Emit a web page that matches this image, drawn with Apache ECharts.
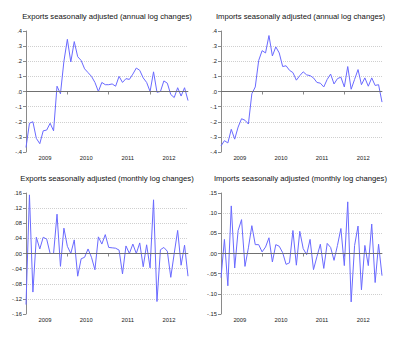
<!DOCTYPE html>
<html>
<head>
<meta charset="utf-8">
<script src="https://cdn.jsdelivr.net/npm/echarts@6/dist/echarts.min.js"></script>
<style>
  html, body { margin: 0; padding: 0; background: #ffffff; }
  #chart { width: 400px; height: 338px; }
</style>
</head>
<body>
<div id="chart"></div>
<script>
// Monthly observations, January 2009 to December 2012 (index 0..47)
const yearLabels = ['2009', '2010', '2011', '2012'];
const months = [];
yearLabels.forEach(function (y) {
  ['01','02','03','04','05','06','07','08','09','10','11','12'].forEach(function (m) { months.push(y + '-' + m); });
});

// Exports, seasonally adjusted, annual log changes
const exportsAnnual = [
  -0.37, -0.21, -0.20, -0.31, -0.345, -0.26, -0.255, -0.21, -0.26, 0.035, -0.015, 0.20,
  0.345, 0.195, 0.33, 0.23, 0.205, 0.15, 0.125, 0.10, 0.06, 0.0, 0.06, 0.045,
  0.045, 0.05, 0.035, 0.10, 0.06, 0.085, 0.08, 0.115, 0.155, 0.14, 0.09, 0.06,
  0.0, 0.13, -0.005, 0.0, 0.07, 0.055, -0.02, -0.04, 0.025, -0.03, 0.025, -0.06
];

// Imports, seasonally adjusted, annual log changes
const importsAnnual = [
  -0.36, -0.325, -0.34, -0.25, -0.315, -0.235, -0.18, -0.19, -0.215, -0.015, 0.03, 0.205,
  0.27, 0.255, 0.37, 0.235, 0.295, 0.255, 0.165, 0.17, 0.14, 0.125, 0.075, 0.105,
  0.13, 0.11, 0.105, 0.09, 0.06, 0.055, 0.03, 0.08, 0.115, 0.05, 0.085, 0.095,
  0.03, 0.165, 0.015, 0.08, 0.145, 0.045, 0.09, 0.035, 0.09, 0.04, 0.045, -0.07
];

// Exports, seasonally adjusted, monthly log changes
const exportsMonthly = [
  -0.135, 0.155, -0.102, 0.043, 0.012, 0.043, 0.038, 0.0, 0.0, 0.104, -0.034, 0.067,
  0.019, 0.0, 0.036, -0.06, -0.014, -0.01, 0.012, -0.01, -0.043, 0.044, 0.025, 0.05,
  0.016, 0.015, 0.014, 0.009, -0.054, 0.02, 0.0, 0.025, 0.0, 0.028, -0.035, 0.023,
  -0.038, 0.142, -0.127, 0.01, 0.016, 0.006, -0.063, 0.0, 0.061, -0.031, 0.022, -0.06
];

// Imports, seasonally adjusted, monthly log changes
const importsMonthly = [
  -0.06, 0.035, -0.08, 0.118, -0.036, 0.057, 0.084, -0.032, 0.014, 0.069, 0.022, 0.022,
  0.004, 0.016, 0.039, -0.021, 0.022, 0.018, 0.002, -0.027, -0.023, 0.057, -0.029, 0.055,
  0.012, -0.003, 0.035, -0.04, -0.008, 0.023, -0.037, 0.025, 0.015, -0.017, 0.02, 0.062,
  -0.03, 0.128, -0.12, 0.02, 0.068, -0.09, 0.02, -0.03, 0.073, -0.072, 0.023, -0.055
];

const titles = [
  'Exports seasonally adjusted (annual log changes)',
  'Imports seasonally adjusted (annual log changes)',
  'Exports seasonally adjusted (monthly log changes)',
  'Imports seasonally adjusted (monthly log changes)'
];

// Value ranges of the four panels: [min, max, step, decimals]
const yScales = [
  [-0.4, 0.4, 0.1, 1],
  [-0.4, 0.4, 0.1, 1],
  [-0.16, 0.16, 0.04, 2],
  [-0.15, 0.15, 0.05, 2]
];

const seriesValues = [exportsAnnual, importsAnnual, exportsMonthly, importsMonthly];

// Panel frames in pixels
const frames = [
  { left: 26,  top: 31,  width: 162, height: 121, cx: 107 },
  { left: 221, top: 31,  width: 161, height: 121, cx: 300.5 },
  { left: 26,  top: 193, width: 162, height: 121, cx: 107 },
  { left: 221, top: 193, width: 161, height: 121, cx: 300.5 }
];

const yearStartIdx = [0, 12, 24, 36];
const yearMidIdx = [5.5, 17.5, 29.5, 41.5];

const axisGray = '#8a8a8a';
const lineBlue = '#6a6aff';
const tickFont = '"Liberation Sans", Arial, sans-serif';

function fmtTick(v, dec) {
  let s = Math.abs(v).toFixed(dec).replace(/^0/, '');
  if (v < -1e-9) s = '-' + s;
  return s;
}

const grids = [], xAxes = [], yAxes = [], series = [], graphics = [];

frames.forEach(function (f, g) {
  grids.push({ left: f.left, top: f.top, width: f.width, height: f.height, containLabel: false });

  graphics.push({
    type: 'text',
    x: f.cx,
    y: f.top - 15,
    style: {
      text: titles[g],
      fill: '#111',
      font: '7.7px "Liberation Sans", Arial, sans-serif',
      textAlign: 'center',
      textVerticalAlign: 'middle'
    }
  });

  xAxes.push({
    type: 'value',
    gridIndex: g,
    min: 0,
    max: 47,
    axisLine: { show: true, lineStyle: { color: axisGray, width: 1 } },
    axisTick: { show: true, customValues: yearStartIdx, length: 3, lineStyle: { color: axisGray } },
    axisLabel: {
      show: true,
      customValues: yearMidIdx,
      formatter: function (v) { return yearLabels[Math.round((v - 5.5) / 12)]; },
      fontSize: 5.8,
      fontFamily: tickFont,
      color: '#222',
      margin: 3
    },
    splitLine: { show: false }
  });

  const sc = yScales[g];
  yAxes.push({
    type: 'value',
    gridIndex: g,
    min: sc[0],
    max: sc[1],
    interval: sc[2],
    axisLine: { show: true, lineStyle: { color: axisGray, width: 1 } },
    axisTick: { show: true, length: 3, lineStyle: { color: axisGray } },
    axisLabel: {
      fontSize: 5.8,
      fontFamily: tickFont,
      color: '#222',
      margin: 4,
      formatter: function (v) { return fmtTick(v, sc[3]); }
    },
    splitLine: {
      show: true,
      showMinLine: false,
      showMaxLine: false,
      lineStyle: { color: '#cfcfcf', type: 'dotted', width: 1 }
    }
  });

  series.push({
    type: 'line',
    name: titles[g],
    xAxisIndex: g,
    yAxisIndex: g,
    data: seriesValues[g].map(function (v, i) { return [i, v]; }),
    showSymbol: false,
    symbol: 'none',
    lineStyle: { color: lineBlue, width: 1 },
    animation: false,
    markLine: {
      silent: true,
      symbol: 'none',
      label: { show: false },
      lineStyle: { color: '#707070', type: 'solid', width: 1 },
      data: [{ yAxis: 0 }],
      animation: false
    }
  });
});

const chart = echarts.init(document.getElementById('chart'), null, { renderer: 'svg' });
chart.setOption({
  backgroundColor: '#ffffff',
  animation: false,
  grid: grids,
  xAxis: xAxes,
  yAxis: yAxes,
  series: series,
  graphic: graphics
});
</script>
</body>
</html>
